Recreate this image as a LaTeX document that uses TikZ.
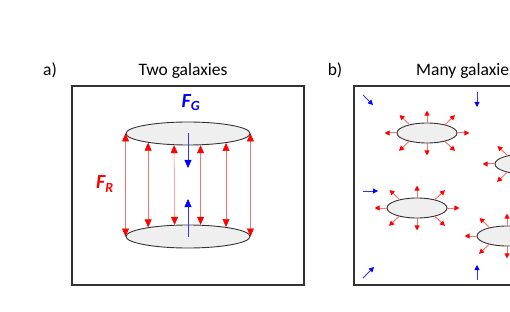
\documentclass[tikz,border=0pt]{standalone}
\usepackage{fontspec}
\setmainfont{Carlito}
\usetikzlibrary{arrows.meta,shapes.geometric}
\definecolor{framec}{HTML}{333333}
\definecolor{galfill}{HTML}{EFEFEF}
\definecolor{shaftred}{HTML}{FF7070}
\tikzset{
  frame/.style={draw=framec,line width=1.3pt},
  title/.style={font=\fontsize{17.5}{19}\selectfont,inner sep=0pt},
  bigG/.style={draw=framec,line width=0.9pt,fill=galfill,ellipse,minimum width=124pt,minimum height=23pt,inner sep=0pt},
  gal/.style={draw=framec,line width=0.9pt,fill=galfill,ellipse,minimum width=60pt,minimum height=20pt,inner sep=0pt},
  rarrA/.style={draw=shaftred,line width=0.5pt,{Triangle[length=8pt,width=7pt,color=red]}-{Triangle[length=8pt,width=7pt,color=red]}},
  barrA/.style={draw=blue!80,line width=0.5pt,-{Triangle[length=8pt,width=7pt,color=blue]}},
  rarrB/.style={draw=shaftred,line width=1pt,-{Triangle[length=5pt,width=5pt,color=red]}},
  barrB/.style={draw=blue!80,line width=0.8pt,-{Triangle[length=5pt,width=5pt,color=blue]}},
  forcelbl/.style={inner sep=0pt,font=\fontsize{20}{22}\selectfont\bfseries\itshape},
}
\newcommand\galaxy[3]{%
  \node[gal] (#1) at (#2,#3) {};
  \draw[rarrB] (#1.north) -- ++(0,-12);
  \draw[rarrB] (#1.south) -- ++(0,12);
  \draw[rarrB] (#1.east) -- ++(12,0);
  \draw[rarrB] (#1.west) -- ++(-12,0);
  \draw[rarrB] (#1.25.8) -- ++(10,-9.5);
  \draw[rarrB] (#1.154.2) -- ++(-10,-9.5);
  \draw[rarrB] (#1.205.8) -- ++(-10,9.5);
  \draw[rarrB] (#1.-25.8) -- ++(10,9.5);
}
\begin{document}
\begin{tikzpicture}[x=1pt,y=-1pt]
\useasboundingbox (0,0) rectangle (510,312);
\clip (0,0) rectangle (510,312);
% panel a
\node[title] (la) at (50,70) {a)};
\node[title] (ta) at (183,71) {Two galaxies};
\draw[frame] (72,86) rectangle (304,285);
\node[bigG] (gt) at (188,133.5) {};
\node[bigG] (gb) at (188,236.5) {};
\draw[rarrA] (gt.west) -- (gb.west);
\draw[rarrA] (gt.east) -- (gb.east);
\draw[rarrA] (gt.-167.1) -- (gb.167.1);
\draw[rarrA] (gt.220.7) -- (gb.139.3);
\draw[rarrA] (gt.-43.3) -- (gb.43.3);
\draw[rarrA] (gt.-14) -- (gb.14);
\coordinate (fgtip) at (188,168);
\coordinate (frtip) at (188,199);
\draw[barrA] (gt.center) -- (fgtip);
\draw[barrA] (gb.center) -- (frtip);
\node[forcelbl,text=blue] (fg) at (191,103) {F\textsubscript{G}};
\node[forcelbl,text=red] (fr) at (105,184) {F\textsubscript{R}};
% panel b
\node[title] (lb) at (335,70) {b)};
\node[title,anchor=west] (tb) at (416,71) {Many galaxies};
\draw[frame] (354,86) rectangle (620,285);
\galaxy{g1}{427}{133}
\galaxy{g2}{417}{208}
\galaxy{g3}{525}{164}
\galaxy{g4}{507}{236}
\coordinate (b1s) at (363,95);  \coordinate (b1e) at (373,105);
\coordinate (b2s) at (477,92);  \coordinate (b2e) at (477,107);
\coordinate (b3s) at (363,191); \coordinate (b3e) at (378,191);
\coordinate (b4s) at (363,278); \coordinate (b4e) at (374,267);
\coordinate (b5s) at (477,280); \coordinate (b5e) at (477,265);
\draw[barrB] (b1s) -- (b1e);
\draw[barrB] (b2s) -- (b2e);
\draw[barrB] (b3s) -- (b3e);
\draw[barrB] (b4s) -- (b4e);
\draw[barrB] (b5s) -- (b5e);
\end{tikzpicture}
\end{document}
